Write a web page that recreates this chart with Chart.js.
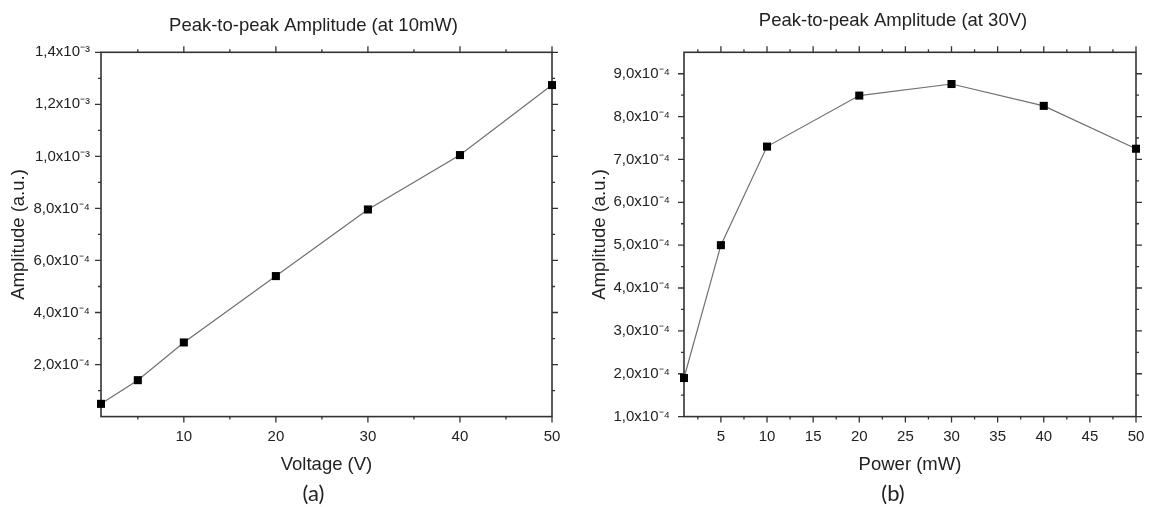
<!DOCTYPE html>
<html>
<head>
<meta charset="utf-8">
<script src="https://cdn.jsdelivr.net/npm/chart.js@4.4.1/dist/chart.umd.min.js"></script>
<style>
  html, body { margin: 0; padding: 0; background: #fff; overflow: hidden; }
  #page { position: relative; width: 1149px; height: 507px; }
  canvas { position: absolute; top: 0; }
  #chartA { left: 0; }
  #chartB { left: 580px; }
</style>
</head>
<body>
<div id="page">
  <canvas id="chartA" width="627" height="507"></canvas>
  <canvas id="chartB" width="626" height="507"></canvas>
</div>
<script>
// (a) amplitude vs voltage, at 10mW
const voltage = [1, 5, 10, 20, 30, 40, 50];
const amplitudeAt10mW = [4.9e-5, 1.4e-4, 2.85e-4, 5.4e-4, 7.96e-4, 1.005e-3, 1.274e-3];

// (b) amplitude vs power, at 30V
const power = [1, 5, 10, 20, 30, 40, 50];
const amplitudeAt30V = [1.9e-4, 5.0e-4, 7.3e-4, 8.49e-4, 8.76e-4, 8.25e-4, 7.25e-4];

// ticks
const voltageTicks = [10, 20, 30, 40, 50];
const voltageMinorTicks = [5, 15, 25, 35, 45];
const ampATicks = [2e-4, 4e-4, 6e-4, 8e-4, 1.0e-3, 1.2e-3, 1.4e-3];
const ampALabels = ['2,0x10⁻⁴', '4,0x10⁻⁴', '6,0x10⁻⁴', '8,0x10⁻⁴', '1,0x10⁻³', '1,2x10⁻³', '1,4x10⁻³'];
const ampAMinorTicks = [1e-4, 3e-4, 5e-4, 7e-4, 9e-4, 1.1e-3, 1.3e-3];

const powerTicks = [5, 10, 15, 20, 25, 30, 35, 40, 45, 50];
const powerMinorTicks = [2.5, 7.5, 12.5, 17.5, 22.5, 27.5, 32.5, 37.5, 42.5, 47.5];
const ampBTicks = [1e-4, 2e-4, 3e-4, 4e-4, 5e-4, 6e-4, 7e-4, 8e-4, 9e-4];
const ampBLabels = ['1,0x10⁻⁴', '2,0x10⁻⁴', '3,0x10⁻⁴', '4,0x10⁻⁴', '5,0x10⁻⁴', '6,0x10⁻⁴', '7,0x10⁻⁴', '8,0x10⁻⁴', '9,0x10⁻⁴'];
const ampBMinorTicks = [1.5e-4, 2.5e-4, 3.5e-4, 4.5e-4, 5.5e-4, 6.5e-4, 7.5e-4, 8.5e-4];

Chart.defaults.font.family = '"Liberation Sans", Arial, sans-serif';
Chart.defaults.color = '#222';

const textColor = '#222';
const frameColor = '#333';

// box around the plot with outward ticks on all four sides
const framePlugin = {
    id: 'frame',
    beforeDatasetsDraw(chart, args, opts) {
        const { ctx, chartArea: a, scales } = chart;
        const x = scales.x, y = scales.y;
        ctx.save();
        ctx.strokeStyle = frameColor;
        ctx.lineWidth = 1.6;
        ctx.strokeRect(a.left, a.top, a.right - a.left, a.bottom - a.top);
        ctx.lineWidth = 1.3;
        const tickX = (vals, len) => {
            vals.forEach(v => {
                const px = x.getPixelForValue(v);
                ctx.beginPath();
                ctx.moveTo(px, a.bottom); ctx.lineTo(px, a.bottom + len);
                ctx.moveTo(px, a.top); ctx.lineTo(px, a.top - len);
                ctx.stroke();
            });
        };
        const tickY = (vals, len) => {
            vals.forEach(v => {
                const py = y.getPixelForValue(v);
                ctx.beginPath();
                ctx.moveTo(a.left, py); ctx.lineTo(a.left - len, py);
                ctx.moveTo(a.right, py); ctx.lineTo(a.right + len, py);
                ctx.stroke();
            });
        };
        tickX(opts.xMajor, 6);
        tickX(opts.xMinor, 3);
        tickY(opts.yMajor, 6);
        tickY(opts.yMinor, 3);
        ctx.restore();
    }
};

function makeChart(id, cfg) {
    const ctx = document.getElementById(id).getContext('2d');
    return new Chart(ctx, {
        type: 'line',
        data: {
            datasets: [{
                data: cfg.xs.map((v, i) => ({ x: v, y: cfg.ys[i] })),
                borderColor: '#6f6f6f',
                borderWidth: 1.2,
                pointStyle: 'rect',
                pointRadius: 5.7,
                pointBackgroundColor: '#000',
                pointBorderColor: '#000',
                pointBorderWidth: 0,
                tension: 0,
                clip: false
            }]
        },
        options: {
            responsive: false,
            animation: false,
            layout: { padding: 0 },
            plugins: {
                legend: { display: false },
                tooltip: { enabled: false },
                title: {
                    display: true,
                    text: cfg.title,
                    color: textColor,
                    font: { size: 18.5, weight: 'normal', lineHeight: 1.2 },
                    padding: cfg.titlePadding
                },
                subtitle: {
                    display: true,
                    text: cfg.panel,
                    position: 'bottom',
                    color: textColor,
                    font: { family: 'Lato, "Open Sans", sans-serif', size: 22, lineHeight: 1.2 },
                    padding: 0
                },
                frame: {
                    xMajor: cfg.xTicks, xMinor: cfg.xMinor,
                    yMajor: cfg.yTicks, yMinor: cfg.yMinor
                }
            },
            scales: {
                x: {
                    type: 'linear',
                    min: 1,
                    max: 50,
                    afterBuildTicks: s => { s.ticks = cfg.xTicks.map(v => ({ value: v })); },
                    afterFit: s => { s.height = 64; },
                    ticks: { font: { size: 15 }, color: textColor, padding: 3, maxRotation: 0, autoSkip: false },
                    grid: { display: false },
                    border: { display: false },
                    title: {
                        display: true,
                        text: cfg.xTitle,
                        color: textColor,
                        font: { size: 18.5, lineHeight: 1.2 },
                        padding: { top: 0, bottom: 5 }
                    }
                },
                y: {
                    type: 'linear',
                    min: cfg.yMin,
                    max: cfg.yMax,
                    afterBuildTicks: s => { s.ticks = cfg.yTicks.map(v => ({ value: v })); },
                    afterFit: s => { s.width = cfg.yWidth; },
                    ticks: {
                        font: { size: 15 },
                        color: textColor,
                        padding: cfg.yTickPad,
                        autoSkip: false,
                        callback: (value, index) => cfg.yLabels[index]
                    },
                    grid: { display: false },
                    border: { display: false },
                    title: {
                        display: true,
                        text: 'Amplitude (a.u.)',
                        color: textColor,
                        font: { size: 18.5, lineHeight: 1.2 },
                        padding: { top: cfg.yTitlePad, bottom: 0 }
                    }
                },
                y2: {
                    position: 'right',
                    ticks: { display: false },
                    grid: { display: false },
                    border: { display: false },
                    afterFit: s => { s.width = cfg.rightGap; }
                }
            }
        },
        plugins: [framePlugin]
    });
}

makeChart('chartA', {
    xs: voltage, ys: amplitudeAt10mW,
    title: 'Peak-to-peak Amplitude (at 10mW)',
    titlePadding: { top: 14.4, bottom: 15.7 },
    panel: '(a)',
    xTitle: 'Voltage (V)',
    xTicks: voltageTicks, xMinor: voltageMinorTicks,
    yTicks: ampATicks, yLabels: ampALabels, yMinor: ampAMinorTicks,
    yMin: 0, yMax: 1.4e-3,
    yWidth: 101, yTickPad: 3, yTitlePad: 8,
    rightGap: 75
});

makeChart('chartB', {
    xs: power, ys: amplitudeAt30V,
    title: 'Peak-to-peak Amplitude (at 30V)',
    titlePadding: { top: 9.4, bottom: 20.7 },
    panel: '(b)',
    xTitle: 'Power (mW)',
    xTicks: powerTicks, xMinor: powerMinorTicks,
    yTicks: ampBTicks, yLabels: ampBLabels, yMinor: ampBMinorTicks,
    yMin: 1e-4, yMax: 9.5e-4,
    yWidth: 104, yTickPad: 6, yTitlePad: 9,
    rightGap: 70
});
</script>
</body>
</html>
